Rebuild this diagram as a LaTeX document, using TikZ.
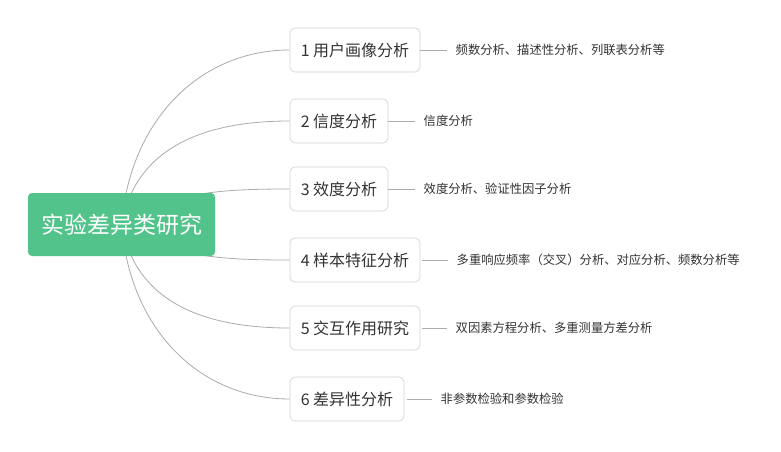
\documentclass[tikz,border=0pt]{standalone}
\usepackage{fontspec}
\setmainfont{Noto Sans CJK SC}
\usetikzlibrary{backgrounds}
\definecolor{rootgreen}{HTML}{52C48B}
\definecolor{linegray}{HTML}{ABABAB}
\definecolor{boxgray}{HTML}{D4D4D4}
\definecolor{txt}{HTML}{333333}
\begin{document}
\begin{tikzpicture}[x=1pt,y=-1pt,
  rootbox/.style={fill=rootgreen, rounded corners=4pt, text=white, font=\fontsize{23}{23}\selectfont, minimum width=187pt, minimum height=63pt, inner sep=0pt},
  topicbox/.style={draw=boxgray, line width=0.7pt, rounded corners=5pt, text=txt, font=\fontsize{16}{16}\selectfont, minimum height=44pt, inner sep=0pt},
  note/.style={anchor=west, text=txt, font=\fontsize{12.3}{12.3}\selectfont, inner xsep=8.5pt, inner ysep=0pt},
  branch/.style={draw=linegray, line width=0.8pt},
  stub/.style={draw=linegray, line width=0.8pt}]
\useasboundingbox (0,0) rectangle (781,452);

\node[rootbox] (root) at (121.5,224.5) {实验差异类研究};

\node[topicbox, minimum width=130pt] (t1) at (355,50) {1 用户画像分析};
\node[topicbox, minimum width=98pt]  (t2) at (339,121) {2 信度分析};
\node[topicbox, minimum width=98pt]  (t3) at (339,189) {3 效度分析};
\node[topicbox, minimum width=130pt] (t4) at (355,260) {4 样本特征分析};
\node[topicbox, minimum width=130pt] (t5) at (355,328) {5 交互作用研究};
\node[topicbox, minimum width=114pt] (t6) at (347,399) {6 差异性分析};

\node[note] (n1) at (447,50) {频数分析、描述性分析、列联表分析等};
\node[note] (n2) at (415,121) {信度分析};
\node[note] (n3) at (415,189) {效度分析、验证性因子分析};
\node[note] (n4) at (448,260) {多重响应频率（交叉）分析、对应分析、频数分析等};
\node[note] (n5) at (447,328) {双因素方程分析、多重测量方差分析};
\node[note] (n6) at (432,399) {非参数检验和参数检验};

\draw[stub] (t1.east) -- (n1.west);
\draw[stub] (t2.east) -- (n2.west);
\draw[stub] (t3.east) -- (n3.west);
\draw[stub] ([xshift=2pt]t4.east) -- (n4.west);
\draw[stub] ([xshift=2pt]t5.east) -- (n5.west);
\draw[stub] ([xshift=3pt]t6.east) -- (n6.west);

\begin{scope}[on background layer]
  \fill[white] (0,0) rectangle (781,452);
  \draw[branch] (root.center) .. controls (130,120) and (200,50) .. (t1.west);
  \draw[branch] (root.center) .. controls (135,150) and (200,121) .. (t2.west);
  \draw[branch] (root.center) .. controls (170,192) and (220,189) .. (t3.west);
  \draw[branch] (root.center) .. controls (170,257) and (220,260) .. (t4.west);
  \draw[branch] (root.center) .. controls (135,300) and (200,328) .. (t5.west);
  \draw[branch] (root.center) .. controls (130,330) and (200,399) .. (t6.west);
\end{scope}
\end{tikzpicture}
\end{document}
